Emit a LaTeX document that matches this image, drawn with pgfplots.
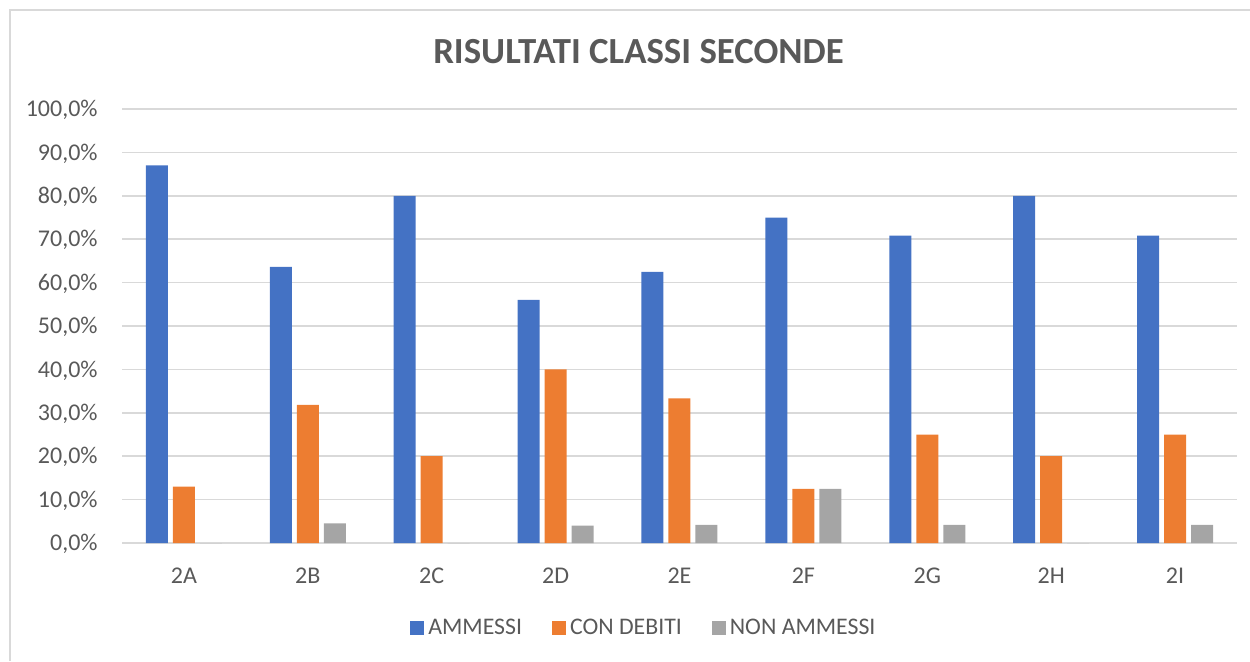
\documentclass[border=0pt]{standalone}
\usepackage{fontspec}
\setmainfont{Carlito}
\usepackage{pgfplots}
\pgfplotsset{compat=1.18}
\definecolor{cblue}{HTML}{4472C4}
\definecolor{corange}{HTML}{ED7D31}
\definecolor{cgray}{HTML}{A5A5A5}
\definecolor{ctext}{HTML}{595959}
\definecolor{cgrid}{HTML}{D9D9D9}
\begin{document}
\begin{tikzpicture}
\path[use as bounding box] (0,0) rectangle (625pt,330.5pt);
\draw[cgrid, line width=0.8pt] (5pt,0pt) -- (5pt,325.5pt) -- (625pt,325.5pt);
\node[anchor=base, font=\bfseries\fontsize{18.4}{22}\selectfont, text=ctext] at (319.25pt,298.75pt) {RISULTATI CLASSI SECONDE};
\begin{axis}[
  at={(61pt,59pt)}, anchor=south west,
  scale only axis,
  width=557.5pt, height=217pt,
  xmin=-0.5, xmax=8.5, ymin=0, ymax=100,
  xtick={0,...,8},
  xticklabels={2A,2B,2C,2D,2E,2F,2G,2H,2I},
  ytick={0,10,...,100},
  yticklabels={{0,0\%},{10,0\%},{20,0\%},{30,0\%},{40,0\%},{50,0\%},{60,0\%},{70,0\%},{80,0\%},{90,0\%},{100,0\%}},
  /pgf/number format/assume math mode=true,
  axis line style={draw=none},
  major tick length=0pt,
  ymajorgrids,
  grid style={cgrid, line width=0.75pt},
  tick label style={font=\fontsize{12}{14}\selectfont, text=ctext, inner sep=0pt},
  yticklabel style={anchor=base east, xshift=-12pt, yshift=-3.8pt},
  xticklabel style={anchor=north, yshift=-12.5pt},
  ybar, bar width=11pt,
  legend columns=3,
  legend style={draw=none, fill=none, at={(0.469,-0.196)}, anchor=center,
    font=\fontsize{11.9}{14}\selectfont, text=ctext, inner sep=0pt,
    /tikz/every even column/.append style={column sep=13pt}},
  legend image code/.code={\fill[#1] (0pt,-3.5pt) rectangle (7pt,3.5pt);},
]
\addplot[fill=cblue, draw=none, bar shift=-13.5pt] coordinates {(0,87.0) (1,63.6) (2,80.0) (3,56.0) (4,62.5) (5,75.0) (6,70.8) (7,80.0) (8,70.8)};
\addplot[fill=corange, draw=none, bar shift=0pt] coordinates {(0,13.0) (1,31.8) (2,20.0) (3,40.0) (4,33.3) (5,12.5) (6,25.0) (7,20.0) (8,25.0)};
\addplot[fill=cgray, draw=none, bar shift=13.5pt] coordinates {(0,0) (1,4.5) (2,0) (3,4.0) (4,4.2) (5,12.5) (6,4.2) (7,0) (8,4.2)};
\legend{AMMESSI, CON DEBITI, NON AMMESSI}
\end{axis}
\end{tikzpicture}
\end{document}
